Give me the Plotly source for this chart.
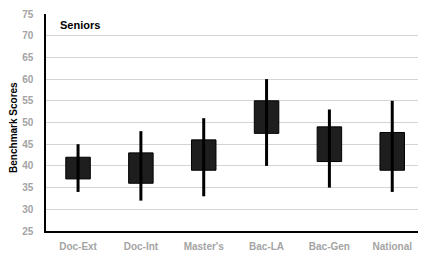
import plotly.graph_objects as go

categories = ["Doc-Ext", "Doc-Int", "Master's", "Bac-LA", "Bac-Gen", "National"]
low = [34, 32, 33, 40, 35, 34]
q1 = [37, 36, 39, 47.5, 41, 39]
q3 = [42, 43, 46, 55, 49, 47.7]
high = [45, 48, 51, 60, 53, 55]
y_ticks = [25, 30, 35, 40, 45, 50, 55, 60, 65, 70, 75]

idx = list(range(len(categories)))

wx, wy = [], []
for i in idx:
    wx += [i, i, None]
    wy += [low[i], high[i], None]

fig = go.Figure()
fig.add_trace(go.Scatter(x=wx, y=wy, mode="lines",
                         line=dict(color="black", width=3), hoverinfo="skip",
                         showlegend=False))
fig.add_trace(go.Bar(x=idx, y=[q3[i] - q1[i] for i in idx], base=q1, width=0.39,
                     marker=dict(color="#1e1e1e", line=dict(color="black", width=1)),
                     showlegend=False))

tick_font = dict(color="#a4a4a4", size=10, family="Liberation Sans, Arial, sans-serif",
                 weight="bold")

fig.update_layout(
    width=423, height=254,
    margin=dict(l=46, r=5, t=14, b=23, autoexpand=False),
    plot_bgcolor="white", paper_bgcolor="white",
    font=dict(family="Liberation Sans, Arial, sans-serif", size=10),
    xaxis=dict(range=[-0.51, 5.41], tickmode="array", tickvals=idx, ticktext=categories,
               showgrid=False, showline=True, linecolor="black", linewidth=1.5,
               tickfont=tick_font, ticklabelstandoff=5, zeroline=False),
    yaxis=dict(range=[25, 75], tickvals=y_ticks, showgrid=True, gridcolor="#d4d4d4",
               gridwidth=1, showline=True, linecolor="black", linewidth=1.5,
               tickfont=tick_font, ticklabelstandoff=9, zeroline=False),
    annotations=[
        dict(text="<b>Seniors</b>", xref="paper", yref="paper", x=12/372, y=1 - 11/217,
             xanchor="left", yanchor="middle", showarrow=False,
             font=dict(size=11, color="black")),
        dict(text="<b>Benchmark Scores</b>", xref="paper", yref="paper", x=-32/372, y=0.475,
             xanchor="center", yanchor="middle", textangle=-90, showarrow=False,
             font=dict(size=10, color="black")),
    ],
)

fig.write_html("out.html", config={"displayModeBar": False},
               post_script="document.body.style.margin='0';document.body.style.padding='0';")
